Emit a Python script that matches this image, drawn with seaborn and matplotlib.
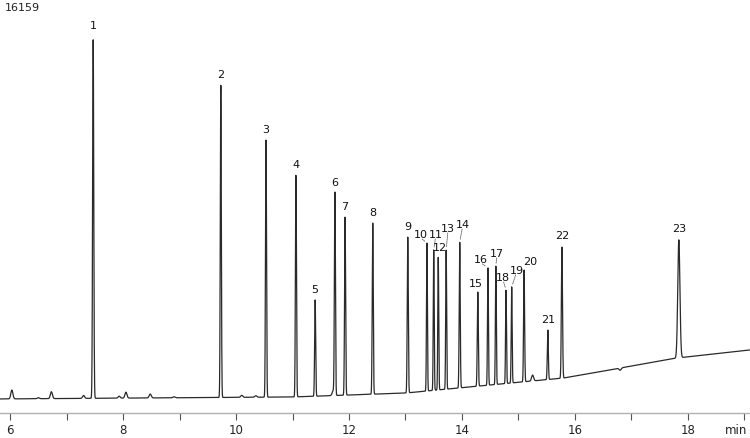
import numpy as np
import pandas as pd
import matplotlib
matplotlib.use("Agg")
import matplotlib.pyplot as plt
import seaborn as sns

# ---- data ----
peak_labels = [str(i) for i in range(1, 24)]
peak_times = [7.47, 9.73, 10.53, 11.06, 11.40, 11.75, 11.93, 12.42, 13.04, 13.38,
              13.50, 13.58, 13.72, 13.96, 14.28, 14.46, 14.60, 14.78, 14.88, 15.10,
              15.52, 15.77, 17.84]
peak_apex = [15150, 13320, 11080, 9660, 4590, 8930, 7960, 7710, 7150, 6900,
             6620, 6330, 6620, 6940, 4910, 5890, 5970, 4990, 5120, 5810,
             3370, 6740, 7030]
peak_sigma = [0.010, 0.009, 0.009, 0.009, 0.009, 0.009, 0.009, 0.009, 0.009, 0.008,
              0.008, 0.008, 0.008, 0.009, 0.009, 0.008, 0.008, 0.008, 0.008, 0.009,
              0.009, 0.010, 0.019]

minor_times = [6.03, 6.50, 6.73, 7.30, 7.93, 8.05, 8.48, 8.90, 10.10, 10.35, 11.72, 15.25, 16.80]
minor_heights = [360, 40, 280, 120, 80, 240, 160, 40, 80, 60, 200, 240, -90]

baseline_t = [5.82, 11.0, 12.0, 13.0, 15.8, 17.8, 19.1]
baseline_v = [570, 650, 730, 810, 1420, 2230, 2560]

x_ticks = [6, 8, 10, 12, 14, 16, 18]
y_max = 16159

# ---- build trace ----
t = np.arange(5.82, 19.10, 0.0015)
base = np.interp(t, baseline_t, baseline_v)
sig = base.copy()
for pt, pa, ps in zip(peak_times, peak_apex, peak_sigma):
    h = pa - np.interp(pt, baseline_t, baseline_v)
    sig += h * np.exp(-0.5 * ((t - pt) / ps) ** 2)
for mt, mh in zip(minor_times, minor_heights):
    sig += mh * np.exp(-0.5 * ((t - mt) / 0.018) ** 2)

df = pd.DataFrame({"time": t, "signal": sig})

sns.set_theme(style="white")
plt.rcParams["font.family"] = ["DejaVu Sans"]

fig = plt.figure(figsize=(7.5, 4.38), dpi=100)
ax = fig.add_axes([0.0, 0.0571, 1.0, 0.9087])
sns.lineplot(data=df, x="time", y="signal", ax=ax, color="#2a2a2a",
             linewidth=0.9, estimator=None, sort=False)

ax.set_xlim(5.82, 19.10)
ax.set_ylim(0, y_max)
for s in ["left", "right", "top"]:
    ax.spines[s].set_visible(False)
ax.spines["bottom"].set_color("#b0b0b0")
ax.spines["bottom"].set_linewidth(1.0)
ax.set_yticks([])
ax.set_xticks(x_ticks)
ax.set_xticks(range(7, 20, 2), minor=True)
ax.tick_params(axis="x", which="both", direction="out", length=5.0, width=0.8,
               color="#555555", bottom=True, pad=3, labelsize=8.5, labelcolor="#222222")
ax.set_xlabel("")
ax.set_ylabel("")

# label offsets (pixels): default centered above apex
offsets = {"10": (-6, 5), "11": (2, 12), "12": (2, 6), "13": (2, 18), "14": (3, 14),
           "15": (-2, 5), "16": (-7, 5), "17": (1, 9), "18": (-3, 9), "19": (5, 13),
           "20": (6, 5), "21": (0, 7), "22": (0, 8), "23": (0, 8), "1": (0, 11)}
leaders = {"10", "11", "13", "14", "16", "17", "18", "19"}
for lab, pt, pa in zip(peak_labels, peak_times, peak_apex):
    dx, dy = offsets.get(lab, (0, 7))
    ax.annotate(lab, xy=(pt, pa), xytext=(dx, dy), textcoords="offset pixels",
                ha="center", va="baseline", fontsize=8, color="#111111")
    if lab in leaders and dy > 4:
        ax.annotate("", xy=(pt, pa), xytext=(dx * 0.8, dy - 1), textcoords="offset pixels",
                    arrowprops=dict(arrowstyle="-", color="#666666", lw=0.6,
                                    linestyle=(0, (1.5, 1)), shrinkA=0, shrinkB=2))

fig.text(736 / 750, 1 - 431 / 438, "min", ha="center", va="center", fontsize=8.5, color="#222222")
fig.text(5 / 750, 1 - 8 / 438, "16159", ha="left", va="center", fontsize=8, color="#222222")

fig.savefig("out.png", dpi=100)
